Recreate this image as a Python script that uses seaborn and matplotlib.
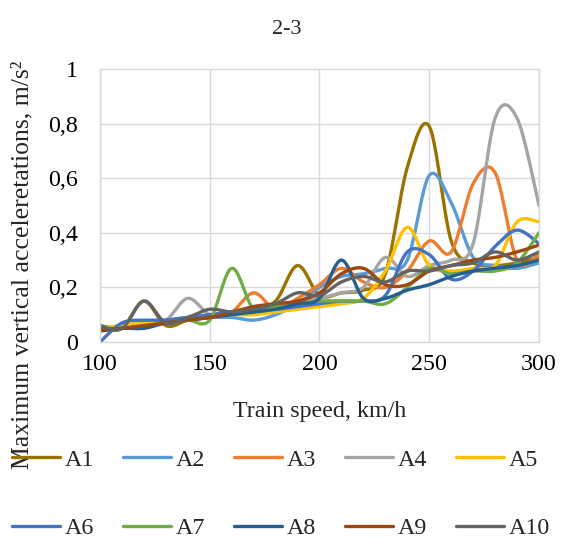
import numpy as np
import pandas as pd
import matplotlib
matplotlib.use("Agg")
import matplotlib.pyplot as plt
import seaborn as sns

# ---- data ----
speed = [100, 110, 120, 130, 140, 150, 160, 170, 180, 190, 200,
         210, 220, 230, 240, 250, 260, 270, 280, 290, 300]

A1 = [0.05, 0.05, 0.15, 0.06, 0.08, 0.09, 0.10, 0.12, 0.15, 0.28, 0.17,
      0.18, 0.19, 0.25, 0.64, 0.79, 0.37, 0.29, 0.28, 0.29, 0.31]
A2 = [0.05, 0.06, 0.07, 0.08, 0.09, 0.09, 0.09, 0.08, 0.10, 0.14, 0.20,
      0.24, 0.25, 0.27, 0.30, 0.61, 0.51, 0.31, 0.28, 0.27, 0.29]
A3 = [0.05, 0.05, 0.06, 0.07, 0.08, 0.09, 0.11, 0.18, 0.12, 0.16, 0.21,
      0.27, 0.22, 0.20, 0.26, 0.37, 0.33, 0.58, 0.62, 0.30, 0.32]
A4 = [0.06, 0.05, 0.07, 0.08, 0.16, 0.10, 0.10, 0.11, 0.12, 0.14, 0.16,
      0.18, 0.20, 0.31, 0.24, 0.28, 0.30, 0.36, 0.82, 0.82, 0.50]
A5 = [0.05, 0.06, 0.07, 0.07, 0.08, 0.09, 0.10, 0.10, 0.11, 0.12, 0.13,
      0.14, 0.16, 0.26, 0.42, 0.28, 0.26, 0.27, 0.28, 0.44, 0.44]
A6 = [0.00, 0.07, 0.08, 0.08, 0.09, 0.10, 0.11, 0.12, 0.12, 0.13, 0.14,
      0.15, 0.15, 0.17, 0.33, 0.32, 0.23, 0.26, 0.35, 0.41, 0.36]
A7 = [0.05, 0.05, 0.06, 0.07, 0.08, 0.08, 0.27, 0.12, 0.13, 0.14, 0.15,
      0.15, 0.15, 0.14, 0.20, 0.27, 0.25, 0.26, 0.26, 0.29, 0.40]
A8 = [0.04, 0.05, 0.05, 0.07, 0.08, 0.09, 0.10, 0.11, 0.12, 0.14, 0.16,
      0.30, 0.16, 0.16, 0.19, 0.21, 0.24, 0.26, 0.27, 0.28, 0.30]
A9 = [0.045, 0.05, 0.06, 0.07, 0.08, 0.09, 0.11, 0.13, 0.14, 0.15, 0.18,
      0.25, 0.27, 0.21, 0.21, 0.26, 0.28, 0.30, 0.31, 0.33, 0.355]
A10 = [0.06, 0.05, 0.15, 0.07, 0.09, 0.12, 0.11, 0.12, 0.14, 0.18, 0.17,
       0.22, 0.24, 0.22, 0.26, 0.26, 0.28, 0.29, 0.33, 0.30, 0.33]

series_names = ["A1", "A2", "A3", "A4", "A5", "A6", "A7", "A8", "A9", "A10"]
series_values = [A1, A2, A3, A4, A5, A6, A7, A8, A9, A10]
colors = ["#997300", "#5B9BD5", "#ED7D31", "#A5A5A5", "#FFC000",
          "#4472C4", "#70AD47", "#255E91", "#9E480E", "#636363"]

x_ticks = [100, 150, 200, 250, 300]
y_ticks = [0, 0.2, 0.4, 0.6, 0.8, 1.0]
y_tick_labels = ["0", "0,2", "0,4", "0,6", "0,8", "1"]


def smooth(xs, ys, n=24):
    """Excel-style smoothed line (Bezier through the data points)."""
    pts = np.column_stack([xs, ys]).astype(float)
    P = np.vstack([pts[0], pts, pts[-1]])
    out = []
    for i in range(1, len(P) - 2):
        p0, p1, p2, p3 = P[i - 1], P[i], P[i + 1], P[i + 2]
        c1 = p1 + (p2 - p0) / 6.0
        c2 = p2 - (p3 - p1) / 6.0
        t = np.linspace(0, 1, n, endpoint=(i == len(P) - 3))[:, None]
        b = ((1 - t) ** 3) * p1 + 3 * ((1 - t) ** 2) * t * c1 \
            + 3 * (1 - t) * t ** 2 * c2 + t ** 3 * p2
        out.append(b)
    return np.vstack(out)


frames = []
for name, vals in zip(series_names, series_values):
    c = smooth(speed, vals)
    frames.append(pd.DataFrame({"speed": c[:, 0], "acc": c[:, 1], "series": name}))
df = pd.concat(frames, ignore_index=True)

sns.set_theme(style="white")
plt.rcParams["font.family"] = ["Liberation Serif", "DejaVu Serif"]
FS = 17.3

fig = plt.figure(figsize=(5.73, 5.45), dpi=100)
ax = fig.add_axes([100 / 573, 1 - 342 / 545, 439 / 573, 273 / 545])

sns.lineplot(data=df, x="speed", y="acc", hue="series", hue_order=series_names,
             palette=colors, sort=False, estimator=None, linewidth=2.4,
             legend=False, ax=ax)

ax.set_xlim(100, 300)
ax.set_ylim(0, 1)
ax.set_xticks(x_ticks)
ax.set_xticklabels([str(v) for v in x_ticks])
ax.set_yticks(y_ticks)
ax.set_yticklabels(y_tick_labels)
ax.tick_params(axis="both", length=0, labelsize=FS, colors="black")
ax.tick_params(axis="x", pad=9)
ax.tick_params(axis="y", pad=16)
ax.grid(True, color="#D9D9D9", linewidth=1.0)
ax.set_axisbelow(True)
for s in ax.spines.values():
    s.set_color("#D9D9D9")
    s.set_linewidth(1.0)

ax.set_xlabel("Train speed, km/h", fontsize=FS)
ax.xaxis.set_label_coords(0.5, -(401 - 342) / 273)
ax.set_ylabel("Maximum vertical acceleretations, m/s²", fontsize=18.5)
ax.yaxis.set_label_coords(-(100 - 33) / 439, (342 - 265) / 273)

fig.text(287 / 573, 1 - 30 / 545, "2-3", ha="center", va="center", fontsize=16)

lines = ax.get_lines()[:10]
order = [0, 5, 1, 6, 2, 7, 3, 8, 4, 9]
handles = [lines[i] for i in order]
labels = [series_names[i] for i in order]
fig.legend(handles, labels, ncol=5, loc="upper left",
           bbox_to_anchor=(12 / 573, 1 - 449 / 545), frameon=False,
           fontsize=FS, handlelength=2.0, handletextpad=0.2,
           columnspacing=1.2, labelspacing=1.95, borderpad=0,
           borderaxespad=0)

fig.savefig("out.png", dpi=100)
